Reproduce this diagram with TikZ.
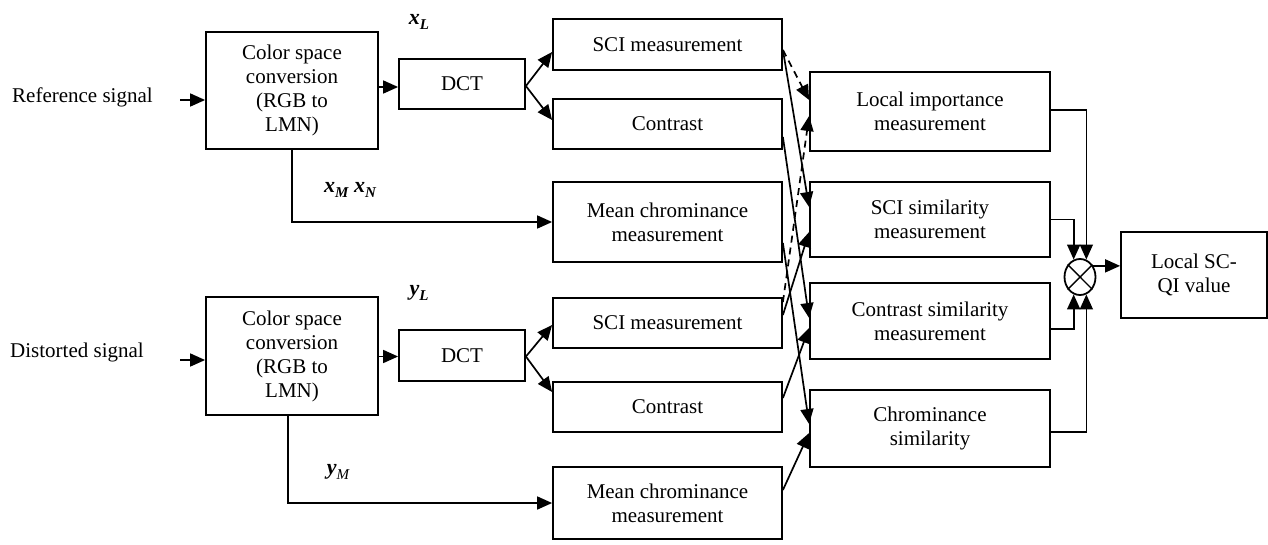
\documentclass[tikz,border=0pt]{standalone}
\usepackage{fontspec}
\setmainfont{Liberation Serif}
\usetikzlibrary{arrows.meta,shapes.geometric,calc}
\newcommand{\sbx}[2]{#1\raisebox{-5pt}{\fontsize{15}{15}\selectfont #2}}
\begin{document}
\begin{tikzpicture}[x=1pt,y=-1pt,
  every node/.style={font=\fontsize{21}{24}\selectfont},
  blk/.style={draw, line width=1.8pt, inner sep=0pt, align=center},
  arr/.style={line width=1.7pt, -{Triangle[length=15pt,width=13pt]}},
  dsh/.style={arr, dash pattern=on 7pt off 5pt},
  lbl/.style={font=\fontsize{22}{24}\selectfont\bfseries\itshape, inner sep=0pt}
]
\useasboundingbox (0,0) rectangle (1268,544);

% inputs
\node[anchor=base west, inner sep=0pt] (ref) at (12,102) {Reference signal};
\node[anchor=base west, inner sep=0pt] (dis) at (10,357) {Distorted signal};
\coordinate (in1) at (180,100);
\coordinate (in2) at (180,360);

% colour conversion
\node[blk, minimum width=172pt, minimum height=117pt] (col1) at (292,90.5) {Color space\\conversion\\(RGB to\\LMN)};
\node[blk, minimum width=172pt, minimum height=118pt] (col2) at (292,356) {Color space\\conversion\\(RGB to\\LMN)};

% DCT
\node[blk, minimum width=126pt, minimum height=50pt] (dct1) at (462,84) {DCT};
\node[blk, minimum width=126pt, minimum height=51pt] (dct2) at (462,355.5) {DCT};

% middle column
\node[blk, minimum width=229pt, minimum height=51pt] (sci1) at (667.5,44.5) {SCI measurement};
\node[blk, minimum width=229pt, minimum height=50pt] (con1) at (667.5,124) {Contrast};
\node[blk, minimum width=229pt, minimum height=80pt] (mc1) at (667.5,222) {Mean chrominance\\measurement};
\node[blk, minimum width=229pt, minimum height=50pt] (sci2) at (667.5,323) {SCI measurement};
\node[blk, minimum width=229pt, minimum height=50pt] (con2) at (667.5,407) {Contrast};
\node[blk, minimum width=229pt, minimum height=72pt] (mc2) at (667.5,503) {Mean chrominance\\measurement};

% right column
\node[blk, minimum width=240pt, minimum height=79pt] (li) at (930,111.5) {Local importance\\measurement};
\node[blk, minimum width=240pt, minimum height=75pt] (ssim) at (930,219.5) {SCI similarity\\measurement};
\node[blk, minimum width=240pt, minimum height=76pt] (csim) at (930,321) {Contrast similarity\\measurement};
\node[blk, minimum width=240pt, minimum height=77pt] (chsim) at (930,428.5) {Chrominance\\similarity};

% multiplier and output
\node[draw, ellipse, line width=1.8pt, inner sep=0pt, minimum width=31pt, minimum height=36pt] (mul) at (1080,277) {};
\draw[line width=1.4pt] (mul.45) -- (mul.225) (mul.135) -- (mul.315);
\node[blk, minimum width=146pt, minimum height=86pt] (out) at (1194,275) {Local SC-\\QI value};

% labels
\node[lbl] (xl) at (419,22) {\sbx{x}{L}};
\node[lbl] (yl) at (419,293) {\sbx{y}{L}};
\node[lbl] (xmn) at (350,190) {\sbx{x}{M} \sbx{x}{N}};
\node[lbl] (ym) at (338,472) {y\raisebox{-5pt}{\fontsize{15}{15}\selectfont\mdseries M}};

% input arrows
\draw[arr] (in1) -- (in1 -| col1.west);
\draw[arr] (in2) -- (in2 -| col2.west);

% colour -> DCT
\draw[arr] ([yshift=-3pt]dct1.west -| col1.east) -- ([yshift=-3pt]dct1.west);
\draw[arr] ([yshift=-1pt]dct2.west -| col2.east) -- ([yshift=-1pt]dct2.west);

% colour -> mean chrominance
\draw[arr] (col1.south) |- (mc1.west);
\draw[arr] ([xshift=-4pt]col2.south) |- (mc2.west);

% DCT fork
\draw[arr] ([yshift=-2pt]dct1.east) -- ([yshift=-7.5pt]sci1.west);
\draw[arr] ([yshift=-2pt]dct1.east) -- ([yshift=4pt]con1.west);
\draw[arr] ([yshift=-1pt]dct2.east) -- ([yshift=-2pt]sci2.west);
\draw[arr] ([yshift=-1pt]dct2.east) -- ([yshift=15pt]con2.west);

% crossings
\draw[dsh] ([yshift=-5.5pt]sci1.east) -- ([yshift=11.5pt]li.west);
\draw[dsh] ([yshift=21pt]sci2.east) -- ([yshift=-4.5pt]li.west);
\draw[arr] ([yshift=-5.5pt]sci1.east) -- ([yshift=12.5pt]ssim.west);
\draw[arr] ([yshift=8pt]sci2.east) -- ([yshift=-12.5pt]ssim.west);
\draw[arr] ([yshift=-13pt]con1.east) -- ([yshift=3pt]csim.west);
\draw[arr] ([yshift=9pt]con2.east) -- ([yshift=-7pt]csim.west);
\draw[arr] ([yshift=-21pt]mc1.east) -- ([yshift=4.5pt]chsim.west);
\draw[arr] ([yshift=13pt]mc2.east) -- ([yshift=-4.5pt]chsim.west);

% to multiplier
\draw[arr] ([yshift=1.5pt]li.east) -| (mul.70);
\draw[arr] (ssim.east) -| (mul.110);
\draw[arr] ([yshift=-8pt]csim.east) -| (mul.250);
\draw[arr] ([yshift=-3.5pt]chsim.east) -| (mul.290);

% multiplier -> output
\draw[arr] (mul.40) -- (mul.40 -| out.west);
\end{tikzpicture}
\end{document}
